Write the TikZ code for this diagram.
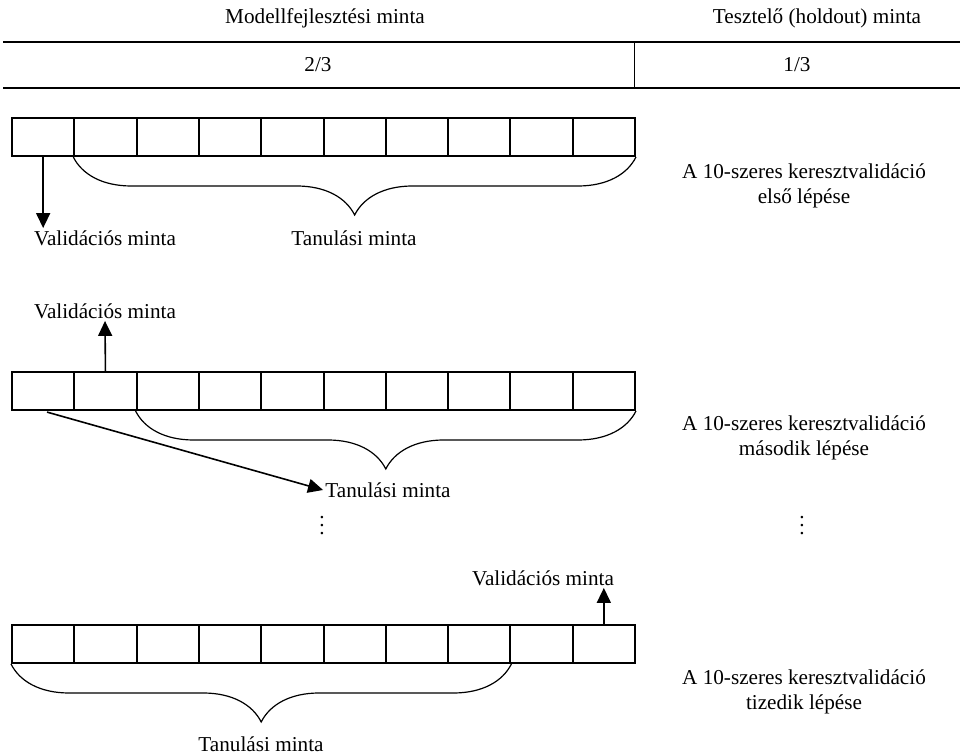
\documentclass[tikz,border=0pt]{standalone}
\usepackage{fontspec}
\setmainfont{Liberation Serif}
\usepackage{tikz}
\usetikzlibrary{arrows.meta}
\usetikzlibrary{decorations.pathreplacing}

\tikzset{
  cell/.style={draw, line width=1pt, minimum width=31.15pt, minimum height=19pt, inner sep=0pt},
  lbl/.style={font=\fontsize{10.6}{12.4}\selectfont, inner sep=1pt},
  arr/.style={-{Triangle[length=7.5pt, width=7pt]}, line width=0.8pt},
  brc/.style={decorate, decoration={brace, mirror, amplitude=29pt}, line width=0.6pt}
}

\begin{document}
\begin{tikzpicture}[x=0.5pt, y=-0.5pt]
  \useasboundingbox (0,0) rectangle (960,753);

  \node[lbl] (model) at (325, 18) {Modellfejlesztési minta};
  \node[lbl] (test) at (817, 18) {Tesztelő (holdout) minta};
  \draw[line width=1pt] (3, 42) -- (960, 42);
  \draw[line width=1pt] (3, 88) -- (960, 88);
  \draw[line width=0.5pt] (634, 42) -- (634, 88);
  \node[lbl] (twothirds) at (318, 65) {2/3};
  \node[lbl] (onethird) at (797, 65) {1/3};

  \foreach \r/\y in {1/137, 2/391, 3/644}
    \foreach \i in {1, 2, 3, 4, 5, 6, 7, 8, 9, 10}
      \node[cell] (c\r-\i) at ({43.15+62.3*(\i-1)}, \y) {};

  \node[lbl] (val1) at (105, 238) {Validációs minta};
  \node[lbl] (tan1) at (354, 238) {Tanulási minta};
  \node[lbl, align=center] (step1) at (804, 186) {A 10-szeres keresztvalidáció\\első lépése};
  \draw[arr] (c1-1.south) -- (c1-1.south |- val1.north);
  \draw[brc] (c1-2.south west) -- (c1-10.south east);

  \node[lbl] (val2) at (105, 311) {Validációs minta};
  \node[lbl] (tan2) at (388, 490) {Tanulási minta};
  \node[lbl, align=center] (step2) at (804, 438) {A 10-szeres keresztvalidáció\\második lépése};
  \draw[arr] (c2-2.north) -- (val2.south);
  \draw[arr, shorten <=2pt] (c2-1.south) -- (tan2.west);
  \draw[brc] (c2-3.south west) -- (c2-10.south east);

  \node[lbl] (dotsl) at (322, 520) {$\vdots$};
  \node[lbl] (dotsr) at (802, 520) {$\vdots$};

  \node[lbl] (val3) at (543, 578) {Validációs minta};
  \node[lbl] (tan3) at (261, 744) {Tanulási minta};
  \node[lbl, align=center] (step3) at (804, 692) {A 10-szeres keresztvalidáció\\tizedik lépése};
  \draw[arr] (c3-10.north) -- (c3-10.north |- val3.south);
  \draw[brc] (c3-1.south west) -- (c3-8.south east);

\end{tikzpicture}
\end{document}
